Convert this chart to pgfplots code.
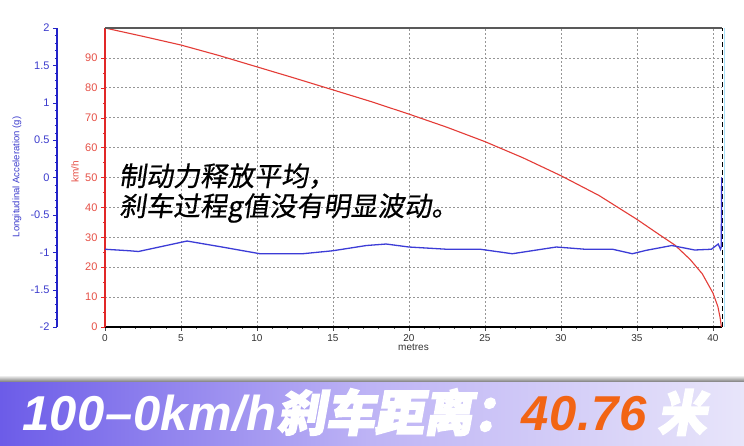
\documentclass[border=0pt]{standalone}
\usepackage{fontspec}
\usepackage{pgfplots}
\pgfplotsset{compat=1.18}
\setmainfont{Liberation Sans}
\newfontfamily\cjkslant[FakeSlant=0.15,FakeBold=0.6]{Noto Sans CJK SC}
\newfontfamily\cjkbold[FakeBold=3,FakeSlant=0.18]{Noto Sans CJK SC}
\newfontfamily\latbi[LetterSpace=1]{Liberation Sans}
\definecolor{redax}{RGB}{225,40,40}
\definecolor{redlab}{RGB}{230,80,70}
\definecolor{redcurve}{RGB}{228,60,55}
\definecolor{blueax}{RGB}{35,35,200}
\definecolor{bluelab}{RGB}{60,60,205}
\definecolor{bluecurve}{RGB}{60,60,215}
\definecolor{bannerL}{RGB}{108,92,232}
\definecolor{bannerM}{RGB}{190,180,245}
\definecolor{bannerR}{RGB}{232,229,250}
\definecolor{orangetxt}{RGB}{242,100,20}
\definecolor{gridc}{RGB}{150,150,150}

\pgfplotstableread{
x v
0 100
2.5 97.2
5 94.3
7.5 90.8
10 87.0
12.5 83.2
15 79.3
17.5 75.4
20 71.2
22.5 66.8
25 62.0
27.5 56.6
30 50.6
32.5 44.0
35 36.0
36.5 30.8
37.5 27.4
38.5 22.6
39.3 17.8
40 11.4
40.33 6.8
40.48 3.0
40.56 0
}\speedtab

\pgfplotstableread{
x g
0 -0.96
1.6 -0.98
2.2 -0.99
5.4 -0.85
7.7 -0.93
10.2 -1.02
13.0 -1.02
15.0 -0.98
17.2 -0.91
18.5 -0.89
20.0 -0.93
22.5 -0.96
24.7 -0.96
26.8 -1.02
29.7 -0.93
31.6 -0.96
33.4 -0.96
34.7 -1.02
35.6 -0.975
37.3 -0.91
38.8 -0.97
39.9 -0.96
40.35 -0.89
40.5 -0.96
40.55 -0.93
40.58 0.0
}\gtab

\begin{document}
\begin{tikzpicture}[x=1pt,y=1pt]
\path[use as bounding box] (0,0) rectangle (744,446);
\fill[white] (0,0) rectangle (744,446);
% banner
\shade[top color=white, bottom color=black!60] (0,63) rectangle (744,71);
\shade[left color=bannerL, right color=bannerR, middle color=bannerM] (0,0) rectangle (744,63);

% main axis (speed)
\begin{axis}[
  at={(105pt,119pt)}, anchor=south west, scale only axis,
  width=617pt, height=299pt,
  xmin=0, xmax=40.6, ymin=0, ymax=100,
  axis x line*=bottom, axis y line*=left,
  x axis line style={black, line width=1.4pt, -},
  y axis line style={redax, line width=1.6pt, -},
  tick align=outside,
  major tick length=4pt, minor tick length=2pt,
  xtick={0,5,...,40}, minor x tick num=4,
  ytick={0,10,...,90}, minor y tick num=1,
  xtick style={black!70},
  ytick style={redax},
  grid=major,
  major grid style={gridc, dash pattern=on 2pt off 2pt, line width=0.6pt},
  /pgf/number format/assume math mode=true,
  xticklabel style={font=\fontsize{10}{10}\selectfont, text=black!80},
  yticklabel style={font=\fontsize{11}{11}\selectfont, text=redlab},
  xlabel={metres},
  xlabel style={font=\fontsize{10}{10}\selectfont, text=black!80, yshift=4pt},
  clip=false,
]
\addplot[redcurve, line width=1.1pt] table[x=x,y=v] {\speedtab};
\draw[black!65, line width=1.3pt] (rel axis cs:0,1) -- (rel axis cs:1,1);
\draw[cyan!35, line width=0.8pt] ([xshift=2.5pt]rel axis cs:1,0) -- ([xshift=2.5pt]rel axis cs:1,1);
\draw[black, line width=1pt, dash pattern=on 5pt off 3pt] (rel axis cs:1,0) -- (rel axis cs:1,1);
\end{axis}

% blue curve axis (same plot area)
\begin{axis}[
  at={(105pt,119pt)}, anchor=south west, scale only axis,
  width=617pt, height=299pt,
  xmin=0, xmax=40.6, ymin=-2, ymax=2,
  axis lines=none,
]
\addplot[bluecurve, line width=1.3pt] table[x=x,y=g] {\gtab};
\end{axis}

% blue scale axis
\begin{axis}[
  at={(57pt,119pt)}, anchor=south west, scale only axis,
  width=10pt, height=299pt,
  xmin=0, xmax=1, ymin=-2, ymax=2,
  axis x line=none, axis y line*=left,
  y axis line style={blueax, line width=2.2pt, -},
  tick align=outside,
  major tick length=4pt, minor tick length=2pt,
  ytick={-2,-1.5,...,2}, minor y tick num=4,
  ytick style={blueax},
  /pgf/number format/assume math mode=true,
  yticklabel style={font=\fontsize{11}{11}\selectfont, text=bluelab},
]
\addplot[draw=none] coordinates {(0,0)};
\end{axis}

% axis titles
\node[rotate=90, text=bluelab, font=\fontsize{9.5}{9.5}\selectfont] at (17,269) {Longitudinal Acceleration (g)};
\node[rotate=90, text=redlab, font=\fontsize{10}{10}\selectfont] at (75,274) {km/h};

% annotation
\node[anchor=base west, inner sep=0pt, font=\cjkslant\fontsize{27}{30}\selectfont] at (119,260) {制动力释放平均，};
\node[anchor=base west, inner sep=0pt, font=\cjkslant\fontsize{27}{30}\selectfont] at (119,230) {刹车过程g值没有明显波动。};

% banner text
\node[anchor=base west, inner sep=0pt, text=white] at (22,15) {\fontsize{49}{49}\selectfont\latbi\bfseries\itshape 100–0km/h\cjkbold 刹车距离：\latbi\bfseries\itshape\textcolor{orangetxt}{40.76}\cjkbold\ 米};
\end{tikzpicture}
\end{document}
